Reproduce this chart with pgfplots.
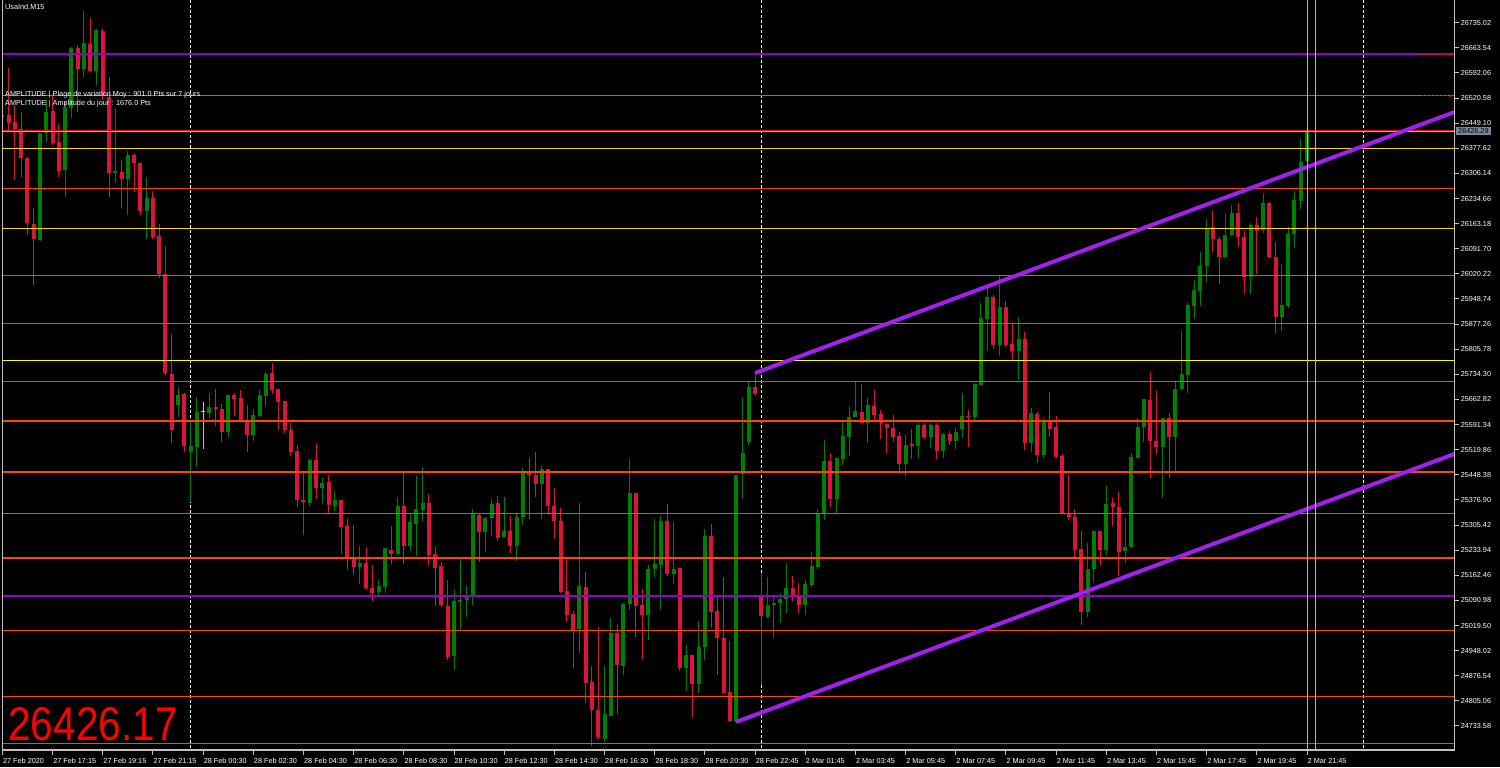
\documentclass[border=0pt]{standalone}
\usepackage{pgfplots}
\pgfplotsset{compat=1.18}
\usepackage{pgfplotstable}
\usepackage{fontspec}
\setmainfont{Liberation Sans}
\usetikzlibrary{arrows.meta,backgrounds}
\definecolor{bull}{HTML}{008000}
\definecolor{bear}{HTML}{DC143C}
\definecolor{lvlorange}{HTML}{FF4500}
\definecolor{lvlgold}{HTML}{FFD700}
\definecolor{lvlyellow}{HTML}{FFFF00}
\definecolor{lvlpurple}{HTML}{9400D3}
\definecolor{trend}{HTML}{A020F0}
\definecolor{framegray}{HTML}{C0C0C0}
\definecolor{pricebox}{HTML}{778899}
\definecolor{sepcyan}{HTML}{00FFFF}

\pgfplotstableread{
k o h l c
0 26467 26475 26464 26472
6 26117 26421 26114 26421
7 26421 26515 26396 26481
10 26316 26509 26239 26495
11 26492 26666 26464 26663
13 26603 26768 26581 26677
15 26598 26717 26558 26714
18 26307 26492 26279 26313
20 26290 26370 26188 26359
23 26199 26296 26119 26236
28 25647 25698 25613 25676
30 25513 25599 25371 25530
31 25528 25670 25471 25627
33 25624 25681 25610 25641
36 25570 25676 25556 25676
40 25562 25636 25545 25619
41 25616 25690 25613 25676
42 25673 25741 25644 25735
49 25368 25493 25360 25491
51 25411 25442 25365 25425
53 25360 25402 25345 25377
57 25186 25246 25138 25197
60 25115 25149 25101 25132
61 25129 25240 25112 25240
63 25223 25385 25220 25360
65 25246 25340 25232 25314
66 25308 25445 25217 25351
67 25348 25471 25317 25368
72 24933 25121 24893 25089
73 25086 25209 25007 25092
74 25092 25135 25044 25104
75 25104 25351 25078 25337
77 25286 25328 25229 25326
78 25326 25380 25274 25365
80 25271 25385 25271 25289
82 25246 25337 25203 25328
83 25328 25468 25306 25454
86 25422 25474 25323 25465
92 25010 25368 24941 25132
96 24697 24904 24688 24768
97 24762 25041 24762 24998
99 24904 25084 24879 25081
100 25081 25494 25064 25397
103 25049 25192 24978 25180
104 25180 25323 25158 25195
105 25192 25331 25064 25317
107 25166 25314 25138 25180
109 24899 24964 24833 24936
111 24853 25032 24827 24958
112 24958 25294 24921 25274
117 24745 25448 24742 25448
118 25451 25670 25380 25511
119 25542 25715 25533 25698
122 25044 25158 25041 25078
123 25078 25101 24984 25084
124 25084 25109 25027 25095
125 25095 25197 25055 25126
128 25078 25149 25049 25138
129 25135 25229 25129 25189
130 25186 25351 25180 25340
131 25340 25548 25320 25488
133 25380 25496 25340 25496
134 25493 25599 25476 25559
135 25556 25641 25502 25613
136 25613 25715 25613 25630
138 25596 25667 25539 25647
144 25479 25562 25445 25533
146 25530 25596 25496 25590
148 25556 25596 25525 25590
150 25516 25567 25496 25565
152 25545 25582 25522 25570
153 25579 25681 25553 25616
155 25613 25710 25599 25707
156 25704 25937 25704 25895
157 25892 25986 25801 25954
159 25818 26014 25787 25926
162 25801 25898 25718 25835
164 25539 25639 25513 25624
166 25505 25610 25496 25599
173 25058 25254 25044 25180
174 25180 25291 25141 25289
176 25234 25417 25220 25365
179 25232 25326 25197 25243
180 25243 25511 25240 25499
181 25496 25610 25496 25585
182 25585 25664 25542 25664
185 25528 25610 25382 25610
187 25556 25715 25456 25693
188 25693 25858 25690 25735
189 25733 25937 25681 25932
190 25929 26003 25892 25974
191 25971 26083 25929 26043
192 26043 26176 25997 26151
195 26068 26191 26065 26131
196 26131 26216 26128 26193
199 26011 26165 25963 26159
201 26145 26250 26137 26222
204 25898 26048 25858 25932
205 25929 26154 25923 26134
206 26134 26256 26094 26230
207 26228 26404 26205 26339
208 26341 26429 26339 26426
}\bulltab

\pgfplotstableread{
k o h l c
1 26472 26606 26424 26450
2 26452 26501 26287 26433
3 26433 26481 26296 26350
4 26350 26353 26131 26165
5 26162 26208 25989 26119
8 26484 26529 26387 26393
9 26396 26447 26296 26313
12 26663 26672 26481 26603
14 26674 26748 26595 26598
16 26711 26717 26515 26526
17 26524 26581 26239 26307
19 26310 26344 26208 26290
21 26359 26361 26253 26336
22 26336 26336 26188 26199
24 26236 26256 26119 26125
25 26128 26162 26008 26020
26 26020 26100 25733 25738
27 25735 25849 25539 25576
29 25678 25681 25513 25530
34 25641 25693 25587 25636
35 25636 25650 25542 25570
37 25676 25681 25616 25664
38 25667 25690 25599 25604
39 25604 25647 25513 25562
43 25738 25767 25678 25690
44 25693 25693 25576 25656
45 25658 25658 25567 25576
46 25576 25596 25502 25513
47 25516 25533 25357 25377
48 25377 25454 25277 25371
50 25491 25536 25380 25411
52 25428 25448 25340 25363
54 25377 25377 25223 25300
55 25303 25326 25178 25212
56 25212 25306 25166 25186
58 25197 25243 25121 25126
59 25126 25192 25089 25112
62 25234 25303 25195 25223
64 25360 25454 25195 25246
68 25368 25394 25192 25220
69 25223 25243 25075 25183
70 25189 25200 25072 25078
71 25075 25149 24921 24930
76 25334 25340 25200 25286
79 25368 25388 25260 25269
81 25289 25331 25226 25246
84 25454 25496 25323 25448
85 25448 25513 25385 25422
87 25465 25465 25337 25360
88 25360 25411 25266 25317
89 25317 25354 25112 25115
90 25118 25209 25030 25049
91 25052 25061 24899 25007
93 25129 25172 24799 24856
94 24859 24904 24677 24779
95 24779 25015 24697 24702
98 24998 25024 24768 24907
101 25397 25397 24987 25075
102 25078 25124 24924 25049
106 25317 25365 25160 25166
108 25183 25183 24890 24899
110 24936 24936 24759 24853
113 25274 25308 25012 25058
114 25061 25101 24879 24984
115 24984 25158 24827 24827
116 24830 24976 24745 24748
120 25698 25738 25673 25678
121 25104 25169 24850 25047
126 25126 25160 25089 25104
127 25104 25141 25055 25078
132 25488 25511 25357 25380
137 25627 25707 25596 25596
139 25644 25690 25604 25619
140 25621 25633 25550 25596
141 25593 25596 25511 25582
142 25582 25619 25542 25556
143 25559 25570 25451 25479
145 25536 25579 25493 25530
147 25590 25596 25550 25556
149 25590 25596 25493 25516
151 25565 25573 25533 25545
154 25616 25633 25528 25613
158 25954 25960 25806 25818
160 25926 25943 25812 25818
161 25821 25880 25775 25801
163 25835 25855 25519 25539
165 25622 25627 25482 25505
167 25599 25684 25556 25579
168 25585 25616 25496 25499
169 25502 25508 25340 25340
170 25340 25448 25320 25328
171 25328 25351 25209 25234
172 25237 25289 25021 25058
175 25289 25289 25192 25234
177 25368 25382 25303 25357
178 25357 25400 25160 25229
183 25661 25741 25439 25545
184 25545 25687 25508 25528
186 25610 25624 25439 25556
193 26154 26199 26082 26119
194 26119 26125 25991 26068
197 26193 26222 26097 26125
198 26125 26142 25966 26011
200 26159 26182 26020 26142
202 26222 26225 26065 26068
203 26068 26112 25852 25898
}\beartab

\pgfplotstableread{
k o h l c
32 25627 25656 25522 25627
}\dojitab

\newcommand{\smallfont}{\fontsize{7.3}{8}\selectfont}

\begin{document}
\begin{tikzpicture}
\begin{axis}[
  anchor=south west,
  scale only axis, width=1452bp, height=750bp,
  xmin=-0.064, xmax=231.44, ymin=24665.25, ymax=26799.6,
  axis line style={draw=none},
  tick align=outside, major tick length=5bp,
  tick style={framegray, line width=1bp},
  xtick pos=left, ytick pos=right, yticklabel pos=right,
  xtick={0,8,...,208},
  xticklabels={27 Feb 2020,27 Feb 17:15,27 Feb 19:15,27 Feb 21:15,28 Feb 00:30,28 Feb 02:30,28 Feb 04:30,28 Feb 06:30,28 Feb 08:30,28 Feb 10:30,28 Feb 12:30,28 Feb 14:30,28 Feb 16:30,28 Feb 18:30,28 Feb 20:30,28 Feb 22:45,2 Mar 01:45,2 Mar 03:45,2 Mar 05:45,2 Mar 07:45,2 Mar 09:45,2 Mar 11:45,2 Mar 13:45,2 Mar 15:45,2 Mar 17:45,2 Mar 19:45,2 Mar 21:45},
  ytick={24733.58,24805.06,24876.54,24948.02,25019.50,25090.98,25162.46,25233.94,25305.42,25376.90,25448.38,25519.86,25591.34,25662.82,25734.30,25805.78,25877.26,25948.74,26020.22,26091.70,26163.18,26234.66,26306.14,26377.62,26449.10,26520.58,26592.06,26663.54,26735.02},
  yticklabels={24733.58,24805.06,24876.54,24948.02,25019.50,25090.98,25162.46,25233.94,25305.42,25376.90,25448.38,25519.86,25591.34,25662.82,25734.30,25805.78,25877.26,25948.74,26020.22,26091.70,26163.18,26234.66,26306.14,26377.62,26449.10,26520.58,26592.06,26663.54,26735.02},
  ticklabel style={font=\smallfont, text=white},
  xticklabel style={anchor=north west, inner xsep=0.5bp},
  yticklabel style={anchor=west, inner xsep=1.5bp},
]
\coordinate (O) at (rel axis cs:0,0);
% day separators
\addplot[white, line width=0.8bp, dash pattern=on 3bp off 2bp, forget plot] coordinates {(30,24600) (30,26900)};
\addplot[white, line width=0.8bp, dash pattern=on 3bp off 2bp, forget plot] coordinates {(121,24600) (121,26900)};
\addplot[white, line width=0.8bp, dash pattern=on 3bp off 2bp, forget plot] coordinates {(217,24600) (217,26900)};

% bear candles
\addplot[draw=none, mark=none, forget plot, error bars/.cd, y dir=plus, y explicit, error mark=none,
  error bar style={draw=bear, line width=1bp}]
  table[x=k, y=l, y error expr={\thisrow{h}-\thisrow{l}}] {\beartab};
\addplot[draw=none, mark=none, forget plot, error bars/.cd, y dir=plus, y explicit, error mark=none,
  error bar style={draw=bear, line width=4bp}]
  table[x=k, y=c, y error expr={max(\thisrow{o}-\thisrow{c},2.8)}] {\beartab};
% bull candles
\addplot[draw=none, mark=none, forget plot, error bars/.cd, y dir=plus, y explicit, error mark=none,
  error bar style={draw=bull, line width=1bp}]
  table[x=k, y=l, y error expr={\thisrow{h}-\thisrow{l}}] {\bulltab};
\addplot[draw=none, mark=none, forget plot, error bars/.cd, y dir=plus, y explicit, error mark=none,
  error bar style={draw=bull, line width=4bp}]
  table[x=k, y=o, y error expr={max(\thisrow{c}-\thisrow{o},2.8)}] {\bulltab};
% doji
\addplot[draw=none, mark=none, forget plot, error bars/.cd, y dir=plus, y explicit, error mark=none,
  error bar style={draw=framegray, line width=1bp}]
  table[x=k, y=l, y error expr={\thisrow{h}-\thisrow{l}}] {\dojitab};
\addplot[draw=none, mark=none, forget plot, error bars/.cd, y dir=plus, y explicit, error mark=none,
  error bar style={draw=framegray, line width=4bp}]
  table[x=k, y=o, y error expr={2.8}] {\dojitab};

% horizontal levels
\foreach \v in {26527.2,26262.6,26015.0,25879.5,25713.3,25601.8,25456.9,25338.2,25211.5,25005.3,24817.5,24683.6} {
  \edef\tmp{\noexpand\addplot[lvlorange, line width=1.5bp, forget plot] coordinates {(-2,\v) (240,\v)};}
  \tmp
}
\addplot[lvlgold, line width=1.5bp, forget plot] coordinates {(-2,26376.4) (240,26376.4)};
\addplot[lvlgold, line width=1.5bp, forget plot] coordinates {(-2,26148.7) (240,26148.7)};
\addplot[lvlyellow, line width=1.5bp, forget plot] coordinates {(-2,25773.1) (240,25773.1)};
\addplot[lvlpurple, line width=2bp, forget plot] coordinates {(-2,26645.1) (240,26645.1)};
\addplot[lvlpurple, line width=2bp, forget plot] coordinates {(-2,25104.0) (240,25104.0)};
\addplot[red, line width=1.5bp, forget plot] coordinates {(-2,26428.8) (240,26428.8)};
\addplot[framegray, line width=0.8bp, forget plot] coordinates {(-2,26424.6) (240,26424.6)};

% price arrows
\addplot[red, line width=0.8bp, dash pattern=on 2bp off 2bp, -{Stealth[length=4bp,width=3bp]}, forget plot] coordinates {(226.3,26645.1) (231.3,26645.1)};
\addplot[red, line width=0.8bp, dash pattern=on 2bp off 2bp, -{Stealth[length=4bp,width=3bp]}, forget plot] coordinates {(226.3,26527.2) (231.3,26527.2)};

% channel
\addplot[trend, line width=4bp, forget plot] coordinates {(120.0,25738) (232,26484)};
\addplot[trend, line width=4bp, forget plot] coordinates {(117.0,24745) (232,25511)};

% cursor lines
\addplot[sepcyan, line width=1bp, forget plot] coordinates {(208.05,24600) (208.05,26900)};
\addplot[sepcyan, line width=1bp, forget plot] coordinates {(209.3,24600) (209.3,26900)};
\end{axis}

\begin{scope}[shift={(O)}, x=1bp, y=1bp, shift={(-2,-17)}]
  \begin{scope}[on background layer]
    \fill[black] (0,0) rectangle (1500,767);
  \end{scope}
  % frame
  \draw[framegray, line width=1bp] (2,767) -- (2,17) -- (1454,17) -- (1454,767);
  % texts
  \node[anchor=base west, inner sep=0, text=white, font=\smallfont] at (5,757) {UsaInd,M15};
  \node[anchor=base west, inner sep=0, text=white, font=\smallfont] at (5,670.7) {AMPLITUDE | Plage de variation Moy : 901.0 Pts sur 7 jours};
  \node[anchor=base west, inner sep=0, text=white, font=\smallfont] at (5,661.5) {AMPLITUDE | Amplitude du jour : 1676.0 Pts};
  \node[anchor=base west, inner sep=0, text=red] at (8,26) {\scalebox{0.86}[1]{\fontsize{47.5}{50}\selectfont 26426.17}};
  \node[anchor=west, fill=pricebox, inner xsep=2bp, inner ysep=1bp, text=black, font=\smallfont] at (1456,636) {26426.29};
  \pgfresetboundingbox
  \useasboundingbox (0,0) rectangle (1500,767);
\end{scope}
\end{tikzpicture}
\end{document}
